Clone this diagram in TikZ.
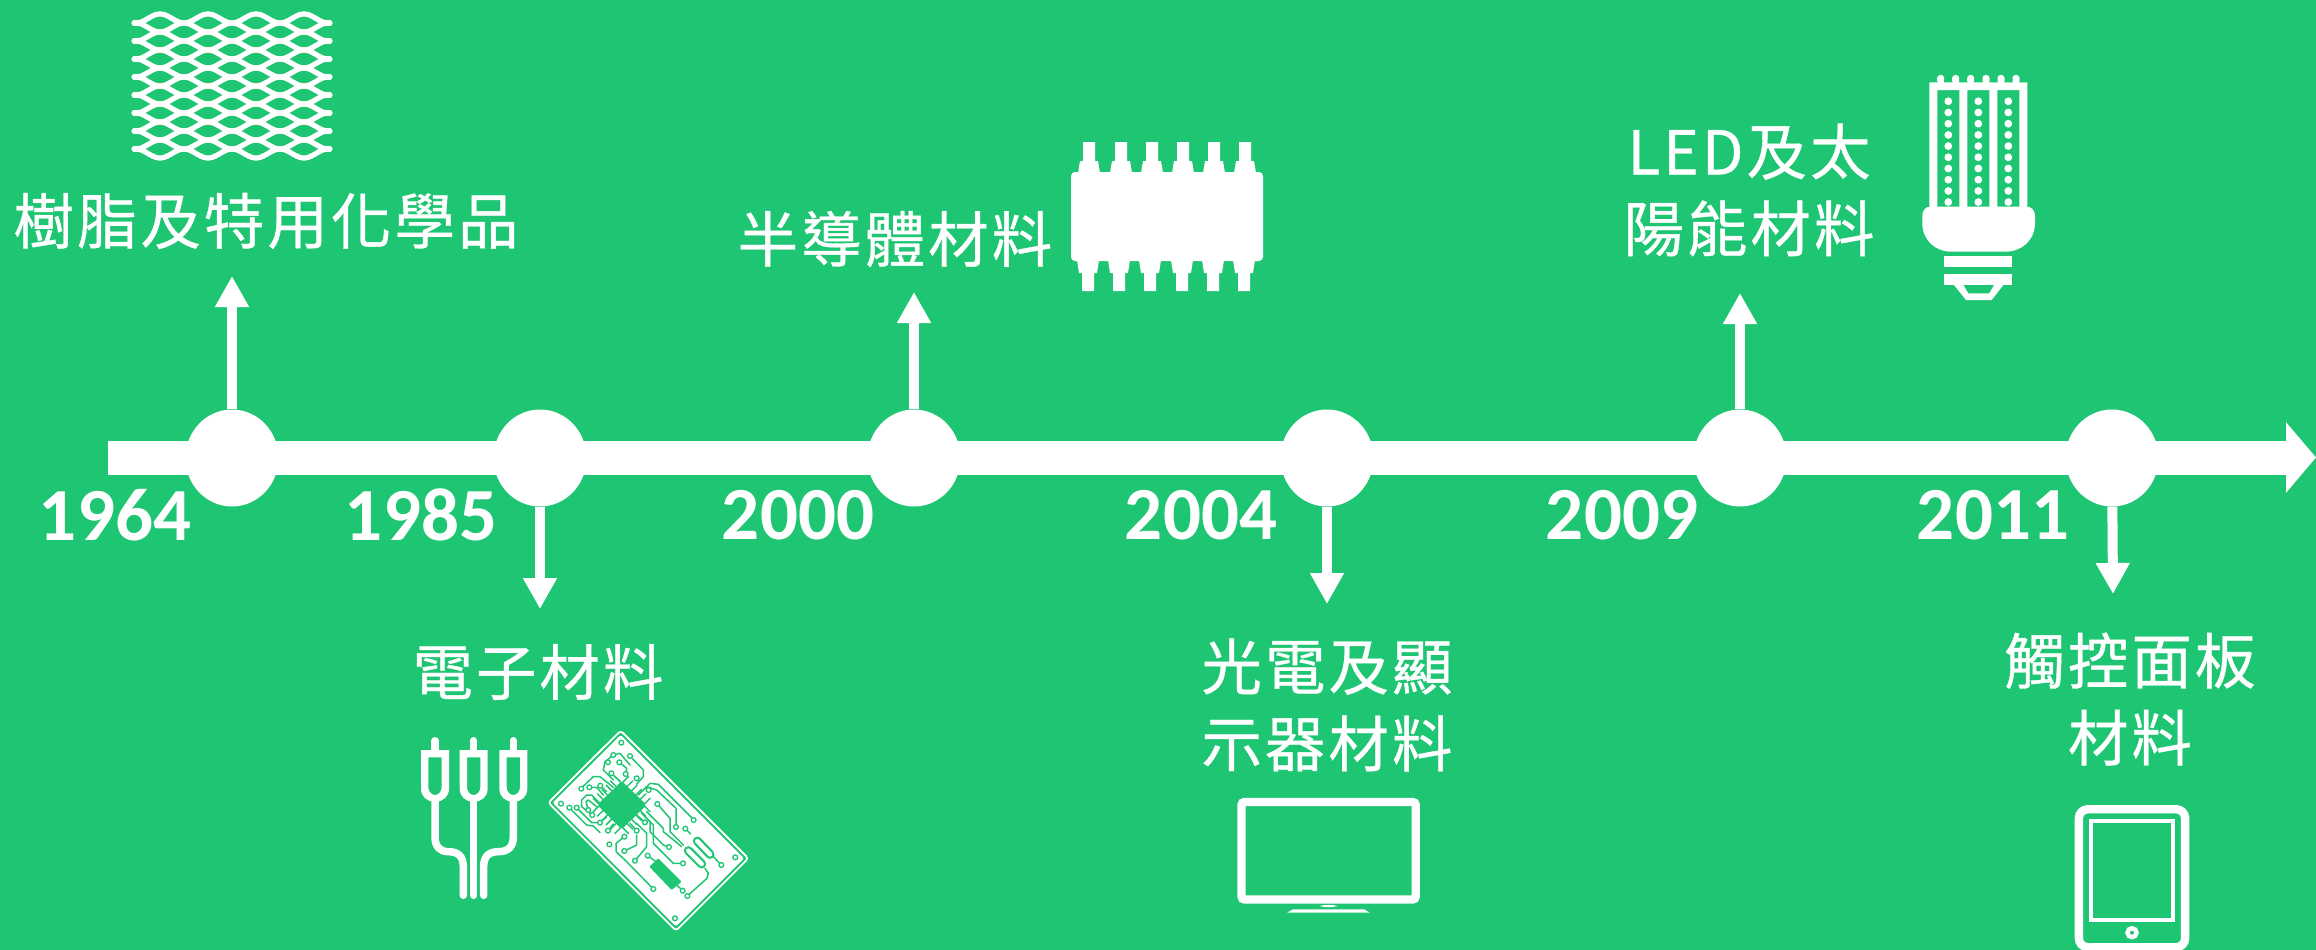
\documentclass[tikz,border=0pt]{standalone}
\usepackage{fontspec}
\usetikzlibrary{arrows.meta,shapes.geometric}
\setmainfont{Carlito}
\newfontfamily\cjk[LetterSpace=5,FakeBold=0.6]{Noto Sans CJK TC}
\definecolor{bgreen}{RGB}{30,197,114}
\tikzset{
  dot/.style={ellipse,fill=white,minimum width=93pt,minimum height=97pt,inner sep=0pt},
  branch/.style={white,line width=10pt,-{Triangle[width=32pt,length=31pt]}},
  axisline/.style={white,line width=34pt,-{Triangle[width=69pt,length=30pt]}},
  yearlabel/.style={text=white,inner sep=0pt,font=\bfseries\fontsize{75}{90}\selectfont},
  cjklabel/.style={text=white,inner sep=0pt,align=center,font=\cjk\fontsize{60.5}{77}\selectfont},
  meshline/.style={white,line width=5.2pt,line cap=round,line join=round},
  zoomtwo/.style={shift={(380,700)},x=0.33333pt,y=-0.33333pt},
  trace/.style={bgreen,line width=1.5pt,line join=round,line cap=round},
  cable/.style={white,line width=7.5pt,line cap=round,line join=round},
}
\begin{document}
\begin{tikzpicture}[x=1pt,y=-1pt]
\useasboundingbox (0,0) rectangle (2316,950);
\clip (0,0) rectangle (2316,950);
\fill[bgreen] (0,0) rectangle (2316,950);

% axis
\coordinate (axstart) at (108,457.5);
\coordinate (axend) at (2316,457.5);
\draw[axisline] (axstart) -- (axend);
\node[dot] (c1) at (232,458) {};
\node[dot] (c2) at (540,458) {};
\node[dot] (c3) at (914,458) {};
\node[dot] (c4) at (1327,458) {};
\node[dot] (c5) at (1740,458) {};
\node[dot] (c6) at (2112,458) {};

% branches
\coordinate (t1) at (232,276);
\coordinate (t2) at (540,609);
\coordinate (t3) at (914,292);
\coordinate (t4) at (1327,604);
\coordinate (t5) at (1740,293);
\coordinate (t6) at (2113,594);
\draw[branch] (c1) -- (t1);
\draw[branch] (c2) -- (t2);
\draw[branch] (c3) -- (t3);
\draw[branch] (c4) -- (t4);
\draw[branch] (c5) -- (t5);
\draw[branch] (c6) -- (t6);

% years
\node[yearlabel] (y1) at (115,515) {1964};
\node[yearlabel] (y2) at (421,515) {1985};
\node[yearlabel] (y3) at (798,515) {2000};
\node[yearlabel] (y4) at (1201,515) {2004};
\node[yearlabel] (y5) at (1622,515) {2009};
\node[yearlabel] (y6) at (1993,515) {2011};

% labels
\node[cjklabel] (l1) at (266,221) {樹脂及特用化學品};
\node[cjklabel] (l2) at (895,239) {半導體材料};
\node[cjklabel] (l3) at (1749,190) {LED及太\\陽能材料};
\node[cjklabel] (l4) at (538,672) {電子材料};
\node[cjklabel] (l5) at (1327,705) {光電及顯\\示器材料};
\node[cjklabel] (l6) at (2130,699) {觸控面板\\材料};

% mesh icon
\foreach \k in {0,...,15}{
  \pgfmathsetmacro\cy{18.5+9*\k}
  \pgfmathsetmacro\sgn{ifthenelse(mod(\k,2)==0,-1,1)}
  \draw[meshline] plot[domain=136:328,samples=97,variable=\t] ({\t},{\cy+\sgn*4.5*cos(7.5*(\t-160))});
}
\foreach \j in {0,...,7}{
  \draw[meshline] (134,23+18*\j) -- (138,23+18*\j);
  \draw[meshline] (326,23+18*\j) -- (330,23+18*\j);
}

% chip icon
\fill[white,rounded corners=4pt] (1071,172) rectangle (1263,261);
\foreach \p in {1089,1121,1152,1183,1214,1245}{
  \fill[white] ({\p-6},142) -- ({\p+6},142) -- ({\p+6},161) -- ({\p+9},161) -- ({\p+11},173) -- ({\p-11},173) -- ({\p-9},161) -- ({\p-6},161) -- cycle;
}
\foreach \p in {1088,1119,1150,1182,1213,1244}{
  \fill[white] ({\p-6},291) -- ({\p+6},291) -- ({\p+6},273) -- ({\p+9},273) -- ({\p+11},260) -- ({\p-11},260) -- ({\p-9},273) -- ({\p-6},273) -- cycle;
}

% LED lamp icon
\fill[white,even odd rule] (1929.3,82.3) rectangle (2027.3,208)
  (1937.3,90) rectangle (1959.3,208)
  (1967.3,90) rectangle (1989.3,208)
  (1997.3,90) rectangle (2019.3,208);
\foreach \p in {1940.7,1955.7,1970.7,1986,2001,2016}{
  \fill[white,rounded corners=3pt] ({\p-3.5},84) -- ({\p-3.5},75) -- ({\p+3.5},75) -- ({\p+3.5},84) -- cycle;
}
\foreach \p in {1948.3,1978.3,2008.3}{
  \foreach \q in {0,...,9}{
    \fill[white] (\p,101.3+11.2*\q) circle[radius=3.9pt];
  }
}
\fill[white] (1930,206.7) -- (2027,206.7) .. controls (2032,206.7) and (2035,211) .. (2035,216) -- (2035,223)
  .. controls (2035,240) and (2022,251.7) .. (2005,251.7) -- (1951.7,251.7)
  .. controls (1935,251.7) and (1922.3,240) .. (1922.3,223) -- (1922.3,216)
  .. controls (1922.3,211) and (1925,206.7) .. (1930,206.7) -- cycle;
\fill[white] (1944.3,255.7) rectangle (2012.3,266.7);
\fill[white] (1944.3,274.3) rectangle (2012.3,285.3);
\fill[white] (1954,285) -- (1966,300) -- (1991.7,300) -- (2003.3,285) -- (1994,285) -- (1989.3,293.3) -- (1968.3,293.3) -- (1963.3,285) -- cycle;

% TV icon
\draw[white,line width=8.3pt,rounded corners=3pt] (1241.5,802) rectangle (1415.7,899.5);
\fill[white] (1319,906) .. controls (1325,904.6) and (1332,904.6) .. (1338,906) .. controls (1332,907.6) and (1325,907.6) .. (1319,906) -- cycle;
\fill[white] (1293,909.3) -- (1364,909.3) -- (1370,912.7) -- (1287,912.7) -- cycle;

% tablet icon
\draw[white,line width=8.4pt,rounded corners=9pt] (2078.9,809.2) rectangle (2185.1,947.3);
\draw[white,line width=4pt] (2091.3,821.3) rectangle (2172.7,919.7);
\draw[white,line width=4.4pt] (2132,932.7) circle[radius=4.5pt];

% RCA cables and circuit board, in the coordinates of a 3x crop
\begin{scope}[zoomtwo]
  \foreach \c in {165,281,400}{
    \draw[white,line width=7.3pt,line cap=round] (\c,122) -- (\c,160);
    \fill[white,even odd rule] ({\c-42},150) -- ({\c+42},150) -- ({\c+42},265)
      .. controls ({\c+42},290) and ({\c+25},305) .. (\c,305)
      .. controls ({\c-25},305) and ({\c-42},290) .. ({\c-42},265) -- cycle
      ({\c-20},172) -- ({\c+20},172) -- ({\c+20},262)
      .. controls ({\c+20},275) and ({\c+10},285) .. (\c,285)
      .. controls ({\c-10},285) and ({\c-20},275) .. ({\c-20},262) -- cycle;
  }
  \draw[cable] (165,300) -- (165,410) .. controls (165,440) and (180,455) .. (205,455)
     .. controls (235,455) and (250,470) .. (250,500) -- (250,586);
  \draw[cable] (281,300) -- (281,586);
  \draw[cable] (400,300) -- (400,410) .. controls (400,440) and (385,455) .. (355,455)
     .. controls (326,455) and (311,470) .. (311,500) -- (311,586);

  % board
  \draw[white,line width=1.8pt,rounded corners=3pt] (722,92) -- (1105,475) -- (888,692) -- (505,308) -- cycle;
  \fill[white,rounded corners=2pt] (722,105) -- (1092,475) -- (888,679) -- (518,308) -- cycle;
  % chip
  \fill[bgreen,rounded corners=3pt] (725,243) -- (800,315) -- (725,388) -- (652,315) -- cycle;
  \foreach \i in {-2.5,-1.5,-0.5,0.5,1.5,2.5}{
    \draw[trace] ({690+\i*13},{280+\i*-13+0}) -- ({672+\i*13},{262+\i*-13});
    \draw[trace] ({760+\i*13},{280+\i*13}) -- ({778+\i*13},{262+\i*13});
    \draw[trace] ({690+\i*13},{350+\i*13}) -- ({672+\i*13},{368+\i*13});
    \draw[trace] ({760+\i*13},{350+\i*-13}) -- ({778+\i*13},{368+\i*-13});
  }
  % traces
  \draw[trace] (700,165) -- (675,185) -- (670,210) -- (700,240);
  \draw[trace] (700,165) -- (720,160) -- (750,195);
  \draw[trace] (750,168) -- (790,210) -- (790,230) -- (770,252);
  \draw[trace] (718,187) -- (740,205) -- (738,222);
  \draw[trace] (694,220) -- (722,245);
  \draw[trace] (603,265) -- (640,230) -- (660,230) -- (700,262);
  \draw[trace] (661,257) -- (680,275);
  \draw[trace] (628,262) -- (650,262) -- (670,285);
  \draw[trace] (660,310) -- (635,285) -- (620,285) -- (605,300) -- (605,320) -- (637,345);
  \draw[trace] (650,320) -- (625,300) -- (618,305) -- (625,330);
  \draw[trace] (590,323) -- (635,368) -- (650,368);
  \draw[trace] (568,323) -- (620,375) -- (640,378) -- (660,398);
  \draw[trace] (888,380) -- (888,325) -- (830,270) -- (800,260) -- (775,285);
  \draw[trace] (942,360) -- (835,253) -- (810,250) -- (790,270);
  \draw[trace] (832,312) -- (870,355) -- (870,395) -- (910,435);
  \draw[trace] (916,386) -- (932,402);
  \draw[trace] (867,441) -- (850,435) -- (810,395) -- (810,365) -- (790,345);
  \draw[trace] (909,490) -- (880,490) -- (820,430) -- (820,375) -- (785,340);
  \draw[trace] (800,335) -- (850,385) -- (850,395) -- (905,440);
  \draw[trace] (733,410) -- (708,430) -- (708,455) -- (735,480) -- (820,567);
  \draw[trace] (733,453) -- (770,435) -- (770,405);
  \draw[trace] (765,482) -- (800,440) -- (800,400) -- (770,370);
  \draw[trace] (795,367) -- (770,345);
  \draw[trace] (770,392) -- (750,370);
  \draw[trace] (684,392) -- (700,372);
  \draw[trace] (660,368) -- (680,350);
  \draw[trace] (922,588) -- (981,535) -- (985,520) -- (975,505);
  \draw[trace] (1024,495) -- (1000,470);
  \draw[trace] (803,467) -- (835,490);
  \draw[trace] (890,555) -- (908,572);
  % capsules
  \draw[bgreen,line width=9pt,line cap=round] (952,423) -- (990,463);
  \draw[white,line width=4.5pt,line cap=round] (952,423) -- (990,463);
  \draw[bgreen,line width=9pt,line cap=round] (925,452) -- (965,492);
  \draw[white,line width=4.5pt,line cap=round] (925,452) -- (965,492);
  % component
  \fill[bgreen,rounded corners=1pt] (835,475) -- (905,545) -- (875,570) -- (808,500) -- cycle;
  % pads
  \foreach \a/\b in {700/165,750/168,684/187,718/187,694/220,737/222,770/235,604/266,628/262,661/257,568/323,590/323,625/330,637/345,660/368,684/392,733/410,688/433,733/453,765/482,803/467,795/367,770/392,806/270,832/312,888/381,916/386,941/360,867/441,909/490,1024/495,820/567,908/572,922/588,724/128,543/311,885/655,1066/472}{
    \fill[white] (\a,\b) circle[radius=2.6pt];
    \draw[bgreen,line width=1.3pt] (\a,\b) circle[radius=2.4pt];
  }
\end{scope}
\end{tikzpicture}
\end{document}
